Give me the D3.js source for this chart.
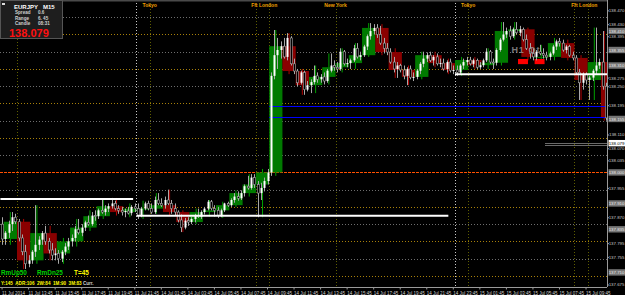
<!DOCTYPE html>
<html>
<head>
<meta charset="utf-8">
<script src="https://cdn.jsdelivr.net/npm/d3@7"></script>
<style>
html, body { margin: 0; padding: 0; background: #000; overflow: hidden; }
svg { display: block; }
text { font-family: "Liberation Sans", Arial, sans-serif; }
</style>
</head>
<body>
<div id="chart"></div>
<script>
'use strict';

// M15 bars, [open, high, low, close], one line per hour (H1 boxes are built from these)
const bars15 = [
  [137.85,137.87,137.79,137.807],
  [137.807,137.83,137.79,137.825],[137.825,137.86,137.81,137.85],[137.85,137.885,137.83,137.87],[137.87,137.88,137.85,137.857],
  [137.857,137.865,137.80,137.81],[137.81,137.82,137.76,137.77],[137.77,137.79,137.72,137.735],[137.735,137.76,137.725,137.745],
  [137.745,137.775,137.735,137.77],[137.77,137.905,137.755,137.79],[137.79,137.815,137.775,137.805],[137.805,137.83,137.79,137.824],
  [137.824,137.845,137.79,137.80],[137.80,137.81,137.765,137.775],[137.775,137.795,137.745,137.76],[137.76,137.78,137.745,137.765],
  [137.765,137.775,137.735,137.75],[137.75,137.775,137.74,137.77],[137.77,137.795,137.76,137.785],[137.785,137.81,137.775,137.80],
  [137.80,137.82,137.785,137.81],[137.81,137.845,137.80,137.835],[137.835,137.865,137.82,137.825],[137.825,137.85,137.815,137.84],
  [137.84,137.86,137.83,137.855],[137.855,137.875,137.845,137.85],[137.85,137.885,137.845,137.875],[137.875,137.89,137.86,137.873],
  [137.873,137.895,137.865,137.89],[137.89,137.92,137.88,137.885],[137.885,137.905,137.875,137.895],[137.895,137.91,137.885,137.902],
  [137.902,137.926,137.895,137.91],[137.91,137.918,137.89,137.895],[137.895,137.905,137.88,137.89],[137.89,137.90,137.875,137.885],
  [137.885,137.895,137.87,137.888],[137.888,137.90,137.878,137.882],[137.882,137.905,137.875,137.90],[137.90,137.91,137.885,137.895],
  [137.895,137.91,137.865,137.875],[137.875,137.90,137.87,137.895],[137.895,137.915,137.89,137.91],[137.91,137.918,137.89,137.895],
  [137.895,137.91,137.88,137.885],[137.885,137.93,137.88,137.92],[137.92,137.94,137.905,137.91],[137.91,137.925,137.90,137.905],
  [137.905,137.93,137.895,137.92],[137.92,137.95,137.905,137.91],[137.91,137.92,137.88,137.895],[137.895,137.91,137.875,137.885],
  [137.885,137.89,137.855,137.862],[137.862,137.878,137.827,137.84],[137.84,137.868,137.835,137.86],[137.86,137.87,137.845,137.856],
  [137.856,137.87,137.85,137.865],[137.865,137.88,137.855,137.875],[137.875,137.895,137.868,137.872],[137.872,137.89,137.865,137.885],
  [137.885,137.90,137.878,137.895],[137.895,137.92,137.89,137.915],[137.915,137.92,137.89,137.895],[137.895,137.905,137.872,137.89],
  [137.89,137.90,137.868,137.876],[137.876,137.895,137.87,137.89],[137.89,137.912,137.885,137.91],[137.91,137.915,137.90,137.905],
  [137.905,137.925,137.90,137.92],[137.92,137.94,137.912,137.93],[137.93,137.945,137.918,137.925],[137.925,137.948,137.92,137.94],
  [137.94,137.965,137.93,137.96],[137.96,137.99,137.95,137.955],[137.955,137.995,137.95,137.985],[137.985,137.995,137.955,137.965],
  [137.965,137.975,137.87,137.94],[137.94,137.97,137.92,137.955],[137.955,137.985,137.945,137.975],[137.975,138.01,137.965,138.00],
  [138.00,138.29,137.99,138.28],[138.28,138.413,138.27,138.34],[138.34,138.39,138.30,138.355],[138.355,138.38,138.33,138.366],
  [138.366,138.39,138.33,138.335],[138.335,138.404,138.325,138.39],[138.39,138.395,138.31,138.315],[138.315,138.33,138.285,138.294],
  [138.294,138.30,138.25,138.26],[138.26,138.295,138.255,138.29],[138.29,138.295,138.225,138.24],[138.24,138.265,138.235,138.253],
  [138.253,138.27,138.23,138.262],[138.262,138.31,138.255,138.28],[138.28,138.29,138.26,138.27],[138.27,138.285,138.26,138.277],
  [138.277,138.29,138.255,138.265],[138.265,138.30,138.26,138.295],[138.295,138.345,138.29,138.31],[138.31,138.325,138.295,138.305],
  [138.305,138.32,138.29,138.30],[138.30,138.36,138.295,138.35],[138.35,138.355,138.31,138.315],[138.315,138.33,138.305,138.317],
  [138.317,138.33,138.30,138.325],[138.325,138.37,138.32,138.36],[138.36,138.375,138.33,138.335],[138.335,138.35,138.325,138.34],
  [138.34,138.37,138.335,138.365],[138.365,138.40,138.355,138.395],[138.395,138.433,138.385,138.41],[138.41,138.43,138.40,138.419],
  [138.419,138.43,138.39,138.40],[138.40,138.425,138.37,138.375],[138.375,138.39,138.345,138.36],[138.36,138.375,138.34,138.349],
  [138.349,138.36,138.315,138.32],[138.32,138.335,138.29,138.30],[138.30,138.32,138.274,138.31],[138.31,138.315,138.29,138.297],
  [138.297,138.31,138.27,138.28],[138.28,138.305,138.253,138.30],[138.30,138.31,138.27,138.275],[138.275,138.29,138.265,138.277],
  [138.277,138.30,138.27,138.295],[138.295,138.32,138.285,138.315],[138.315,138.35,138.305,138.33],[138.33,138.348,138.32,138.34],
  [138.34,138.35,138.32,138.325],[138.325,138.34,138.31,138.335],[138.335,138.345,138.31,138.315],[138.315,138.33,138.305,138.317],
  [138.317,138.33,138.295,138.30],[138.30,138.325,138.29,138.32],[138.32,138.33,138.29,138.295],[138.295,138.31,138.285,138.297],
  [138.297,138.31,138.28,138.29],[138.29,138.315,138.285,138.31],[138.31,138.33,138.30,138.32],[138.32,138.335,138.31,138.326],
  [138.326,138.335,138.31,138.315],[138.315,138.33,138.305,138.325],[138.325,138.33,138.30,138.305],[138.305,138.32,138.30,138.311],
  [138.311,138.33,138.305,138.325],[138.325,138.36,138.32,138.35],[138.35,138.355,138.315,138.32],[138.32,138.33,138.30,138.318],
  [138.318,138.36,138.31,138.355],[138.355,138.39,138.35,138.385],[138.385,138.436,138.38,138.40],[138.40,138.42,138.39,138.41],
  [138.41,138.425,138.385,138.395],[138.395,138.42,138.39,138.415],[138.415,138.436,138.40,138.405],[138.405,138.425,138.395,138.415],
  [138.415,138.42,138.38,138.385],[138.385,138.40,138.355,138.36],[138.36,138.375,138.33,138.345],[138.345,138.36,138.325,138.335],
  [138.335,138.355,138.325,138.35],[138.35,138.37,138.34,138.345],[138.345,138.36,138.33,138.34],[138.34,138.35,138.325,138.335],
  [138.335,138.35,138.325,138.345],[138.345,138.37,138.34,138.365],[138.365,138.385,138.355,138.38],[138.38,138.39,138.365,138.375],
  [138.375,138.385,138.35,138.355],[138.355,138.37,138.345,138.365],[138.365,138.37,138.335,138.34],[138.34,138.35,138.325,138.332],
  [138.332,138.34,138.285,138.29],[138.29,138.30,138.21,138.26],[138.26,138.29,138.24,138.285],[138.285,138.29,138.255,138.268],
  [138.268,138.28,138.21,138.275],[138.275,138.30,138.265,138.295],[138.295,138.42,138.285,138.31],[138.31,138.33,138.30,138.32],
  [138.32,138.41,138.24,138.25],[138.25,138.26,138.15,138.158]
];

// time axis: bar index -> label
const timeBars = [0,8,16,24,32,40,48,56,64,72,80,88,96,104,112,120,128,136,144,152,160,168,176];
const timeLabels = ["11 Jul 2014","11 Jul 13:45","11 Jul 15:45","11 Jul 17:45","11 Jul 19:45","11 Jul 21:45",
  "14 Jul 01:45","14 Jul 03:45","14 Jul 05:45","14 Jul 07:45","14 Jul 09:45","14 Jul 11:45","14 Jul 13:45",
  "14 Jul 15:45","14 Jul 17:45","14 Jul 19:45","14 Jul 21:45","14 Jul 23:45","15 Jul 01:45","15 Jul 03:45",
  "15 Jul 05:45","15 Jul 07:45","15 Jul 09:45"];

// price axis labels
const yTicks = [137.675,137.755,137.795,137.870,137.955,138.035,138.070,138.110,138.195,138.250,138.275,138.395,138.430,138.470];
const yMarked = [137.710,137.835,137.910,138.000,138.155,138.310,138.355,138.410];
const lastPrice = 138.079;

// grid levels
const gridGray = [137.75,137.85,137.95,138.05,138.15,138.25,138.35,138.45];
const gridGold = [137.70,137.80,137.90,138.10,138.20,138.30,138.40];
const roundLevel = [138.00];

// day separators and session lines (bar index)
const daySeparators = [41,137];
const sessionLines = [5,45,77,81,101,141,173,177];
const sessionNames = ["Tokyo","Fft London","New York","Tokyo","Fft London"];
const sessionBars = [45,79.5,101,141,176];

// indicator levels
const whiteLevels = [137.923,137.874,138.285];
const whiteFrom = [0,41,137];
const whiteTo = [39,134,182];
const blueLevels = [138.194,138.161];
const blueFrom = 81;
const redZoneBars = [[156,158],[161,163]];
const redZoneTop = 138.329, redZoneBottom = 138.314;
const bidAsk = [138.086,138.079];

const W = 625, H = 295;
const plotRight = 607, plotBottom = 287;

const svg = d3.select('#chart').append('svg').attr('width', W).attr('height', H);
svg.append('rect').attr('width', W).attr('height', H).attr('fill', '#000');

const x = d3.scaleBand().domain(d3.range(bars15.length)).range([0.4, 607.6]).padding(0);
const bw = x.bandwidth();
const cx = i => x(i) + bw / 2;
const xEdge = i => 0.4 + i * bw;
const y = d3.scaleLinear().domain([137.6677, 138.4942]).range([plotBottom, 2]);

const plot = svg.append('g');

// horizontal grid
function hLines(vals, color, dash) {
    plot.append('g').selectAll('line').data(vals).join('line')
        .attr('x1', 0).attr('x2', plotRight)
        .attr('y1', d => Math.round(y(d)) + 0.5).attr('y2', d => Math.round(y(d)) + 0.5)
        .attr('stroke', color).attr('stroke-width', 1).attr('stroke-dasharray', dash);
}
hLines(gridGray, '#6e6e6e', '1,2');
hLines(gridGold, '#a8800a', '1,2');

// vertical lines
plot.append('g').selectAll('line').data(sessionLines).join('line')
    .attr('x1', d => Math.round(xEdge(d)) + 0.5).attr('x2', d => Math.round(xEdge(d)) + 0.5)
    .attr('y1', 0).attr('y2', plotBottom)
    .attr('stroke', '#5e5e00').attr('stroke-dasharray', '1,2');
plot.append('g').selectAll('line').data(daySeparators).join('line')
    .attr('x1', d => Math.round(xEdge(d)) + 0.5).attr('x2', d => Math.round(xEdge(d)) + 0.5)
    .attr('y1', 0).attr('y2', plotBottom)
    .attr('stroke', '#c8c8c8').attr('stroke-dasharray', '1,2');

hLines(roundLevel, '#ff5000', '3,1');

// H1 boxes from groups of 4 M15 bars
const h1 = [];
for (let s = 1; s < bars15.length; s += 4) {
    const e = Math.min(s + 3, bars15.length - 1);
    const grp = bars15.slice(s, e + 1);
    h1.push({
        s: s, e: e, o: grp[0][0], c: grp[grp.length - 1][3],
        h: d3.max(grp, d => d[1]), l: d3.min(grp, d => d[2])
    });
}
const h1g = plot.append('g');
h1g.selectAll('line').data(h1).join('line')
    .attr('x1', d => (xEdge(d.s) + xEdge(d.e + 1)) / 2).attr('x2', d => (xEdge(d.s) + xEdge(d.e + 1)) / 2)
    .attr('y1', d => y(d.h)).attr('y2', d => y(d.l))
    .attr('stroke', d => d.c >= d.o ? '#00a000' : '#b00000').attr('stroke-width', 1);
h1g.selectAll('rect').data(h1).join('rect')
    .attr('x', d => xEdge(d.s)).attr('width', d => xEdge(d.e + 1) - xEdge(d.s))
    .attr('y', d => y(Math.max(d.o, d.c)))
    .attr('height', d => Math.max(1, Math.abs(y(d.o) - y(d.c))))
    .attr('fill', d => d.c >= d.o ? '#007a00' : '#8a0000');

// level lines
plot.append('g').selectAll('line').data(blueLevels).join('line')
    .attr('x1', xEdge(blueFrom)).attr('x2', plotRight)
    .attr('y1', d => Math.round(y(d)) + 0.5).attr('y2', d => Math.round(y(d)) + 0.5)
    .attr('stroke', '#0000ff').attr('stroke-width', 1);

plot.append('g').selectAll('rect').data(redZoneBars).join('rect')
    .attr('x', d => xEdge(d[0])).attr('width', d => xEdge(d[1] + 1) - xEdge(d[0]))
    .attr('y', y(redZoneTop)).attr('height', y(redZoneBottom) - y(redZoneTop))
    .attr('fill', '#ff0000');

// M15 candles
const cg = plot.append('g');
cg.selectAll('line').data(bars15).join('line')
    .attr('x1', (d, i) => Math.round(cx(i)) + 0.5).attr('x2', (d, i) => Math.round(cx(i)) + 0.5)
    .attr('y1', d => y(d[1])).attr('y2', d => y(d[2]))
    .attr('stroke', '#a8a8a8').attr('stroke-width', 1);
cg.selectAll('rect').data(bars15).join('rect')
    .attr('x', (d, i) => Math.round(cx(i)) - 0.5).attr('width', 2)
    .attr('y', d => y(Math.max(d[0], d[3])))
    .attr('height', d => Math.max(1, Math.abs(y(d[0]) - y(d[3]))))
    .attr('fill', d => d[3] >= d[0] ? '#ffffff' : '#000000')
    .attr('stroke', d => d[3] >= d[0] ? 'none' : '#a8a8a8').attr('stroke-width', 0.6);

plot.append('text').attr('x', xEdge(154)).attr('y', y(138.345))
    .attr('font-size', 9).attr('font-weight', 'bold').attr('fill', '#9a9a9a').attr('fill-opacity', 0.8)
    .attr('letter-spacing', 1).text('H1 Ot');

// white support/resistance lines
plot.append('g').selectAll('line').data(whiteLevels).join('line')
    .attr('x1', (d, i) => xEdge(whiteFrom[i])).attr('x2', (d, i) => xEdge(whiteTo[i] + 1))
    .attr('y1', d => y(d)).attr('y2', d => y(d))
    .attr('stroke', '#ffffff').attr('stroke-width', 2);

plot.append('g').selectAll('line').data(bidAsk).join('line')
    .attr('x1', 545).attr('x2', plotRight)
    .attr('y1', d => Math.round(y(d)) + 0.5).attr('y2', d => Math.round(y(d)) + 0.5)
    .attr('stroke', '#6a6a6a').attr('stroke-width', 1);

// top border line
svg.append('rect').attr('x', 0).attr('y', 0).attr('width', W).attr('height', 1.5).attr('fill', '#4a4a4a');

// session labels
svg.append('g').selectAll('text').data(sessionNames).join('text')
    .attr('x', (d, i) => xEdge(sessionBars[i])).attr('y', 7)
    .attr('text-anchor', 'middle').attr('font-size', 5).attr('font-weight', 'bold')
    .attr('fill', '#f0a000').text(d => d);

// price axis
const axisW = W - plotRight;
svg.append('rect').attr('x', plotRight).attr('y', 0).attr('width', axisW).attr('height', H).attr('fill', '#000');
const yAxis = svg.append('g').attr('transform', `translate(${plotRight + 0.5},0)`)
    .call(d3.axisRight(y).tickValues(yTicks).tickFormat(d3.format('.3f')).tickSize(1.5));
yAxis.select('.domain').remove();
yAxis.selectAll('line').attr('stroke', '#9a9a9a');
yAxis.selectAll('text').attr('x', axisW - 1).attr('text-anchor', 'end')
    .attr('fill', '#c8c8c8').attr('font-size', 4.4)
    .attr('font-family', '"Liberation Sans", Arial, sans-serif');
svg.append('line').attr('x1', plotRight + 0.5).attr('x2', plotRight + 0.5).attr('y1', 0).attr('y2', plotBottom)
    .attr('stroke', '#9a9a9a');

const marked = svg.append('g').selectAll('g').data(yMarked).join('g')
    .attr('transform', d => `translate(${plotRight + 1},${y(d)})`);
marked.append('rect').attr('x', 0.5).attr('y', -3.2).attr('width', axisW - 1.5).attr('height', 6.4).attr('fill', '#767676');
marked.append('text').attr('x', axisW - 1.5).attr('y', 1.6).attr('text-anchor', 'end')
    .attr('font-size', 4.4).attr('fill', '#e8e8e8').text(d => d3.format('.3f')(d));

const lp = svg.append('g').attr('transform', `translate(${plotRight + 1},${y(lastPrice) - 2})`);
lp.append('rect').attr('x', 0.5).attr('y', -3.2).attr('width', axisW - 1.5).attr('height', 6.4).attr('fill', '#ffffff');
lp.append('text').attr('x', axisW - 1.5).attr('y', 1.6).attr('text-anchor', 'end')
    .attr('font-size', 4.4).attr('fill', '#000').text(d3.format('.3f')(lastPrice));

// time axis
svg.append('rect').attr('x', 0).attr('y', plotBottom).attr('width', W).attr('height', H - plotBottom).attr('fill', '#000');
const xAxis = svg.append('g').attr('transform', `translate(0,${plotBottom + 0.5})`)
    .call(d3.axisBottom(x).tickValues(timeBars).tickFormat((d, i) => timeLabels[i]).tickSize(2).tickPadding(1));
xAxis.select('.domain').attr('stroke', '#9a9a9a').attr('d', `M0,0H${plotRight}`);
xAxis.selectAll('line').attr('stroke', '#9a9a9a');
xAxis.selectAll('text').attr('fill', '#d0d0d0').attr('font-size', 4.5).attr('text-anchor', 'start')
    .attr('dy', '0.9em').attr('font-family', '"Liberation Sans", Arial, sans-serif');

// info box
const info = svg.append('g');
info.append('rect').attr('x', 0.5).attr('y', 0.5).attr('width', 62).attr('height', 38)
    .attr('fill', '#1e1e1e').attr('stroke', '#555');
info.append('rect').attr('x', 2).attr('y', 3).attr('width', 3).attr('height', 2).attr('fill', '#ddd');
info.append('text').attr('x', 14).attr('y', 8.5).attr('font-size', 6).attr('font-weight', 'bold')
    .attr('fill', '#fff').attr('xml:space', 'preserve').text('EURJPY   M15');
const infoRows = [['Spread', '0.6'], ['Range', '6. 45'], ['Candle', '08:31']];
infoRows.forEach((r, i) => {
    info.append('text').attr('x', 15).attr('y', 14 + i * 5.5).attr('font-size', 4.6).attr('font-weight', 'bold')
        .attr('fill', '#cfcfcf').text(r[0]);
    info.append('text').attr('x', 38).attr('y', 14 + i * 5.5).attr('font-size', 4.6).attr('font-weight', 'bold')
        .attr('fill', '#cfcfcf').text(r[1]);
});
info.append('text').attr('x', 9).attr('y', 36.5).attr('font-size', 11).attr('font-weight', 'bold')
    .attr('fill', '#ff1010').text(d3.format('.3f')(lastPrice));

// bottom-left indicator text
const bl = svg.append('g');
bl.append('text').attr('x', 1).attr('y', 275).attr('font-size', 6.4).attr('font-weight', 'bold').attr('fill', '#00d000').text('RmUp50');
bl.append('text').attr('x', 37).attr('y', 275).attr('font-size', 6.4).attr('font-weight', 'bold').attr('fill', '#00d000').text('RmDn25');
bl.append('text').attr('x', 74).attr('y', 275).attr('font-size', 6.4).attr('font-weight', 'bold').attr('fill', '#ffff00').text('T=45');
const stat = bl.append('text').attr('x', 1).attr('y', 285).attr('font-size', 4.6).attr('font-weight', 'bold');
stat.append('tspan').attr('fill', '#ffff00').attr('xml:space', 'preserve').text('Y:145  ADR:106  2W:84  1M:90  3M:83 ');
stat.append('tspan').attr('fill', '#cfcfcf').text('Curr.');
</script>
</body>
</html>
